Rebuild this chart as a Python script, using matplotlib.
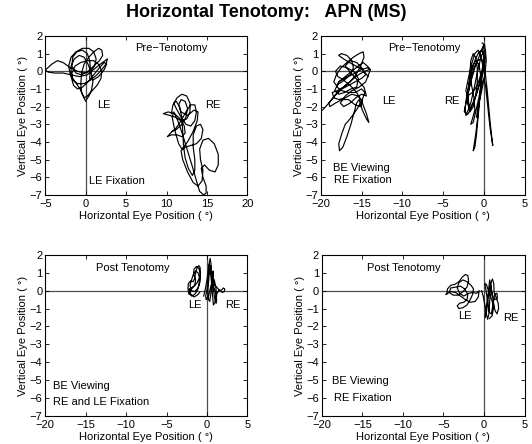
import matplotlib
matplotlib.use("Agg")
import matplotlib.pyplot as plt

plt.rcParams["font.family"] = ["Liberation Sans", "DejaVu Sans"]
plt.rcParams["font.size"] = 8

# ---- eye position traces (degrees) ----
# pre-tenotomy, LE fixation
pre_mono_le_x = [0.0, -0.3, -0.7, -1.3, -1.9, -2.1, -1.8, -1.2, -0.4, 0.4, 1.0, 1.3, 1.1, 0.6, -0.2, -1.0, -1.9,
                 -2.8, -3.5, -4.2, -4.8, -5.0, -4.6, -3.8, -2.8, -1.8, -0.8, 0.2, 1.0, 1.8, 2.4, 2.7, 2.5, 2.0, 1.4,
                 0.6, -0.2, -1.0, -1.6, -1.7, -1.3, -0.6, 0.2, 1.0, 1.6, 2.0, 1.9, 1.4, 0.8, 0.2, -0.2, -0.5, -0.6,
                 -0.5, -0.2, 0.4, 1.0, 1.6, 2.0, 2.1, 1.7, 1.0, 0.3, -0.5, -1.2, -1.7, -1.6, -1.1, -0.4, 0.2, 0.5,
                 0.6, 0.5, 0.9, 1.6, 2.3, 2.6, 2.3, 1.7, 1.0, 0.3, -0.4, -1.0, -1.5, -1.8, -1.8, -1.4, -0.8, -0.2,
                 0.3, 0.7, 0.9, 0.7, 0.4, 0.1]
pre_mono_le_y = [-1.7, -1.4, -1.0, -0.6, -0.2, 0.3, 0.8, 1.1, 1.3, 1.3, 1.1, 0.7, 0.3, 0.0, -0.1, 0.0, 0.2,
                 0.5, 0.6, 0.4, 0.15, 0.05, -0.05, -0.1, -0.1, -0.2, -0.3, -0.2, 0.1, 0.4, 0.6, 0.7, 0.4, 0.1, -0.2,
                 -0.5, -0.7, -0.7, -0.5, -0.1, 0.3, 0.5, 0.6, 0.6, 0.4, 0.0, -0.4, -0.8, -1.1, -1.4, -1.5, -1.2, -0.7,
                 -0.1, 0.4, 0.8, 1.1, 1.3, 1.2, 0.9, 0.6, 0.3, 0.0, -0.2, -0.1, 0.3, 0.8, 1.1, 1.2, 1.0, 0.6,
                 0.1, -0.4, -0.5, -0.3, 0.1, 0.4, 0.5, 0.2, -0.2, -0.6, -0.9, -1.0, -0.8, -0.3, 0.3, 0.7, 0.9, 0.8,
                 0.4, -0.1, -0.6, -1.1, -1.4, -1.6]
pre_mono_re_x = [10.6, 10.8, 11.3, 11.9, 12.5, 12.9, 12.9, 12.5, 11.8, 11.1, 10.4, 9.6, 10.2, 11.0, 11.7, 12.2,
                 12.3, 11.9, 11.3, 10.6, 10.1, 10.5, 11.2, 11.8, 12.4, 13.0, 13.5, 13.7, 13.5, 13.0, 12.4, 11.8,
                 11.2, 10.9, 11.2, 11.6, 11.9, 12.0, 12.1, 12.3, 12.7, 13.2, 13.5, 13.5, 13.3, 13.3, 13.7, 14.2,
                 14.5, 14.3, 13.7, 13.0, 12.3, 11.8, 12.0, 12.6, 13.3, 13.9, 14.4, 14.5, 14.2, 14.1, 14.5, 15.2,
                 15.9, 16.4, 16.4, 16.0, 15.3, 14.7, 14.3, 14.5, 14.9, 14.9, 14.6, 14.1, 13.7, 13.2, 12.6, 12.0,
                 11.4, 10.9, 10.7, 11.0, 11.5, 11.9, 12.6, 13.3, 13.8, 13.9, 13.4, 12.6, 11.8, 11.5, 11.8, 12.3,
                 12.6, 12.4, 11.9, 11.2, 10.7]
pre_mono_re_y = [-2.4, -1.9, -1.5, -1.3, -1.4, -1.8, -2.3, -2.7, -2.8, -2.6, -2.5, -2.4, -2.3, -2.4, -2.7, -3.1,
                 -3.5, -3.7, -3.6, -3.6, -3.7, -3.5, -3.2, -2.8, -2.3, -1.9, -1.9, -2.3, -2.8, -3.1, -3.0, -2.6,
                 -2.1, -1.8, -1.7, -2.0, -2.6, -3.4, -4.2, -4.9, -5.5, -5.9, -5.6, -5.0, -4.3, -3.6, -3.1, -3.0,
                 -3.3, -3.8, -4.1, -4.2, -4.3, -4.5, -5.0, -5.7, -6.3, -6.5, -6.2, -5.6, -5.0, -4.4, -3.9, -3.8,
                 -4.1, -4.7, -5.3, -5.7, -5.6, -5.3, -5.5, -6.0, -6.5, -6.9, -7.0, -6.8, -6.2, -5.4, -4.5, -3.6,
                 -2.8, -2.3, -2.6, -3.3, -4.1, -4.4, -4.0, -3.4, -2.8, -2.3, -2.2, -2.5, -2.3, -1.9, -1.6, -1.7,
                 -2.1, -2.6, -3.0, -3.3, -3.4]

# pre-tenotomy, both eyes viewing, RE fixation
pre_be_le_x = [-19.8, -19.2, -18.5, -17.8, -17.0, -16.2, -15.4, -14.6, -14.0, -14.3, -15.0, -15.8, -16.6, -17.4,
               -18.1, -18.4, -18.1, -17.5, -16.8, -16.0, -15.3, -14.8, -14.7, -15.1, -15.7, -16.4, -17.2, -18.0,
               -18.6, -18.4, -17.8, -17.0, -16.2, -15.4, -14.9, -15.1, -15.8, -16.6, -17.4, -18.2, -18.9, -19.0,
               -18.3, -17.4, -16.6, -15.8, -15.0, -14.5, -14.9, -15.7, -16.5, -17.2, -17.8, -17.5, -16.8, -16.2,
               -16.0, -16.4, -17.1, -17.8, -18.0, -17.4, -16.6, -15.8, -15.0, -14.6, -14.9, -15.5, -16.1, -16.6,
               -17.0, -17.4, -17.8, -17.7, -17.3, -16.8, -16.3, -15.9, -15.6, -15.3, -14.9, -14.4, -14.1, -14.4,
               -14.9, -15.6, -16.4, -17.2, -17.9, -18.2, -17.6, -16.8, -16.0, -15.4, -15.6, -16.3, -17.1, -17.8,
               -18.3, -17.8, -17.0, -16.2, -15.4, -14.8, -14.3, -13.9, -14.5, -15.3, -16.2, -17.0, -17.6, -17.2,
               -16.4, -15.7, -15.0, -14.4, -14.7, -15.5, -16.3, -17.0, -16.4, -15.6, -15.0, -14.2]
pre_be_le_y = [-2.2, -1.9, -1.5, -1.1, -0.8, -0.5, -0.2, 0.0, 0.1, 0.2, 0.1, -0.1, -0.3, -0.6,
               -0.8, -0.6, -0.2, 0.2, 0.5, 0.8, 1.0, 1.1, 0.8, 0.3, -0.2, -0.6, -0.9, -1.1,
               -1.2, -1.5, -1.6, -1.5, -1.3, -1.4, -1.7, -2.0, -1.9, -1.6, -1.6, -1.8, -2.0, -1.8,
               -1.4, -1.0, -0.8, -0.6, -0.4, -0.2, 0.1, 0.3, 0.5, 0.7, 0.9, 1.0, 0.9, 0.6,
               0.2, -0.2, -0.4, -0.6, -0.9, -1.1, -1.2, -1.2, -1.0, -1.2, -1.6, -2.1, -2.5, -2.8,
               -3.0, -3.5, -4.1, -4.5, -4.3, -3.7, -3.0, -2.3, -1.8, -1.6, -2.2, -2.7, -2.9, -2.4,
               -1.8, -1.2, -0.8, -0.5, -0.3, 0.0, 0.3, 0.2, 0.0, -0.4, -0.9, -1.0, -1.2, -1.3,
               -1.1, -0.6, -0.3, 0.0, 0.3, 0.5, 0.3, 0.1, -0.6, -0.9, -1.1, -1.4, -1.8, -2.0,
               -1.8, -1.5, -1.3, -1.4, -0.9, -0.5, -0.1, 0.3, 0.6, 0.5, 0.2, -0.3]
pre_be_re_x = [-0.2, 0.1, 0.2, 0.1, -0.2, -0.6, -1.0, -1.5, -1.9, -2.2, -2.3, -2.1, -1.8, -1.5, -1.1, -0.7, -0.3,
               0.0, 0.1, -0.1, -0.5, -0.9, -1.3, -1.7, -1.9, -1.9, -1.7, -1.4, -1.0, -0.6, -0.4, -0.4, -0.6, -0.8,
               -1.0, -1.2, -1.3, -1.1, -0.9, -0.7, -0.5, -0.3, 0.0, 0.2, 0.4, 0.6, 0.8, 1.0, 1.1, 1.0, 0.8, 0.6,
               0.4, 0.2, 0.0, -0.3, -0.8, -1.2, -1.6, -1.9, -2.0, -1.7, -1.3, -1.0, -0.8, -0.8, -1.0, -1.3, -1.6,
               -1.7, -1.5, -1.2, -1.1, -1.4, -1.6, -1.3, -1.0, -0.6, -0.3, -0.1, -0.3, -0.7, -1.1, -1.5, -1.9,
               -2.2, -2.0, -1.4, -0.8, -0.3, 0.0, -0.1, 0.0, -0.2, -0.6, -1.1, -1.6, -2.1, -2.4, -2.1, -1.6,
               -1.2, -0.9, -0.6, -0.3, 0.2, 0.3, 0.1, -0.3, -0.7, -0.9]
pre_be_re_y = [1.6, 1.5, 1.1, 0.5, -0.1, -0.8, -1.4, -2.0, -2.4, -2.5, -2.1, -1.4, -0.7, 0.0, 0.6, 1.0, 1.2,
               1.0, 0.5, -0.1, -0.7, -1.3, -1.8, -2.1, -1.7, -1.0, -0.3, 0.3, 0.6, 0.4, -0.2, -1.0, -1.9, -2.8,
               -3.6, -4.2, -4.5, -4.3, -3.6, -2.6, -1.6, -0.8, -0.4, -0.8, -1.6, -2.5, -3.3, -3.9, -4.2, -3.8,
               -3.0, -2.0, -1.0, -0.2, 0.4, 0.7, 0.6, 0.2, -0.5, -1.2, -1.8, -2.3, -2.0, -1.4, -0.6, 0.2, 0.8,
               1.0, 0.6, -0.1, -0.8, -1.5, -2.2, -2.7, -3.0, -2.9, -2.3, -1.5, -0.6, 0.2, 0.8, 1.2, 1.0, 0.4,
               -0.4, -1.1, -1.4, -1.2, -0.8, -0.1, 0.6, 1.2, 1.5, 1.3, 0.8, 0.2, -0.6, -1.6, -2.3, -2.4, -1.8,
               -1.0, -0.3, 0.3, 0.9, 1.2, 0.6, -0.3, -1.2, -2.0, -2.6]

# post-tenotomy, both eyes viewing, RE and LE fixation
post_both_le_x = [-2.2, -2.35, -2.3, -2.0, -1.7, -1.5, -1.4, -1.2, -1.0, -0.85, -0.8, -0.95, -1.2, -1.6, -2.0,
                  -2.2, -1.9, -1.5, -1.2, -1.0, -0.9, -1.1, -1.4, -1.7, -1.9, -2.1, -1.9, -1.5, -1.1, -0.85,
                  -0.8, -1.0, -1.3, -1.6, -1.65, -1.4, -1.5, -1.9, -2.2, -2.0, -1.6, -1.2, -0.9]
post_both_le_y = [-0.2, 0.1, 0.4, 0.55, 0.5, 0.7, 1.0, 1.3, 1.4, 1.3, 1.0, 0.7, 0.45, 0.25, 0.05,
                  -0.15, -0.3, -0.2, 0.0, 0.3, 0.7, 1.0, 1.1, 0.9, 0.6, 0.3, 0.0, -0.05, 0.15, 0.5,
                  0.9, 1.25, 1.35, 1.2, 0.9, 0.6, 0.3, 0.15, 0.1, -0.2, -0.35, -0.25, -0.1]
post_both_re_x = [-0.4, -0.2, 0.0, 0.15, 0.3, 0.4, 0.5, 0.55, 0.65, 0.85, 1.05, 1.2, 1.15, 0.95, 0.75, 0.6,
                  0.45, 0.3, 0.2, 0.1, 0.2, 0.35, 0.5, 0.65, 0.75, 0.8, 0.95, 1.3, 1.6, 1.85, 2.0, 2.2, 2.15,
                  1.9, 1.5, 1.2, 0.95, 0.8, 0.7, 0.55, 0.4, 0.3, 0.2, 0.05, -0.15, -0.1, 0.2, 0.5, 0.9, 1.1, 1.2]
post_both_re_y = [-0.3, 0.1, 0.6, 1.1, 1.6, 1.8, 1.5, 1.0, 0.5, 0.2, -0.1, -0.5, -0.7, -0.4, 0.2, 0.9,
                  1.4, 1.1, 0.5, -0.1, -0.5, -0.6, -0.1, 0.6, 1.1, 0.7, 0.3, 0.15, 0.0, 0.05, 0.15, 0.1, -0.05,
                  -0.1, 0.05, -0.2, -0.7, -0.8, -0.3, 0.5, 1.2, 1.5, 0.9, 0.2, -0.3, -0.5, -0.3, 0.3, 0.6, 0.2, -0.3]

# post-tenotomy, both eyes viewing, RE fixation
post_be_le_x = [-4.6, -4.5, -4.1, -3.6, -3.1, -2.7, -2.3, -2.0, -1.9, -2.1, -2.6, -3.2, -3.8, -4.3, -4.1, -3.5,
                -2.9, -2.4, -2.0, -2.1, -2.5, -3.0, -3.3, -3.1, -2.6, -2.1, -1.7, -1.4, -1.3, -1.6, -2.1, -2.6,
                -3.1, -3.3, -3.0, -2.5, -1.9, -1.4, -0.9, -0.6, -0.7, -1.1, -1.7, -2.3, -2.9, -3.5, -4.1, -4.7]
post_be_le_y = [-0.2, 0.1, 0.3, 0.35, 0.5, 0.75, 0.9, 0.85, 0.55, 0.2, -0.05, -0.25, -0.25, -0.1, 0.15, 0.2,
                0.25, 0.1, -0.2, -0.5, -0.65, -0.7, -0.85, -1.0, -0.95, -0.8, -0.5, -0.2, 0.1, 0.3, 0.5, 0.6,
                0.45, 0.15, -0.15, -0.3, -0.15, -0.1, -0.15, 0.0, -0.35, -0.6, -0.65, -0.5, -0.3, -0.1, -0.05, -0.2]
post_be_re_x = [-0.3, -0.1, 0.1, 0.3, 0.45, 0.6, 0.7, 0.8, 0.9, 1.05, 1.2, 1.25, 1.5, 1.75, 1.8, 1.6, 1.35,
                1.15, 1.0, 0.8, 0.6, 0.4, 0.25, 0.15, 0.3, 0.5, 0.6, 0.7, 0.85, 1.0, 1.3, 1.65, 1.6, 1.3, 1.1,
                0.9, 0.65, 0.45, 0.25, 0.1, 0.3, 0.6, 0.95, 1.2, 1.0, 0.7]
post_be_re_y = [0.0, -0.3, -0.8, -1.3, -1.6, -1.3, -0.6, 0.1, 0.5, 0.65, 0.4, -0.1, -0.4, -0.7, -1.0, -1.3, -1.1,
                -0.6, -0.1, 0.3, 0.0, -0.5, -1.0, -1.5, -1.2, -0.5, 0.2, 0.6, 0.2, -0.3, -0.5, -0.45, -0.15, -0.2,
                -0.8, -1.3, -1.2, -0.6, 0.0, 0.4, 0.35, -0.1, -0.5, -0.9, -1.4, -1.55]

panels = [
    # rect, xlim, xticks, traces, texts
    ([0.085, 0.561, 0.380, 0.358], (-5, 20), [-5, 0, 5, 10, 15, 20],
     [(pre_mono_le_x, pre_mono_le_y), (pre_mono_re_x, pre_mono_re_y)],
     [(6.1, 1.3, "Pre\u2212Tenotomy"), (1.4, -1.9, "LE"), (14.8, -1.9, "RE"), (0.45, -6.2, "LE Fixation")]),
    ([0.603, 0.561, 0.383, 0.358], (-20, 5), [-20, -15, -10, -5, 0, 5],
     [(pre_be_le_x, pre_be_le_y), (pre_be_re_x, pre_be_re_y)],
     [(-11.7, 1.3, "Pre\u2212Tenotomy"), (-12.5, -1.7, "LE"), (-4.9, -1.7, "RE"),
      (-18.5, -5.5, "BE Viewing"), (-18.4, -6.15, "RE Fixation")]),
    ([0.085, 0.063, 0.380, 0.363], (-20, 5), [-20, -15, -10, -5, 0, 5],
     [(post_both_le_x, post_both_le_y), (post_both_re_x, post_both_re_y)],
     [(-13.7, 1.27, "Post Tenotomy"), (-2.3, -0.8, "LE"), (2.3, -0.8, "RE"),
      (-19.0, -5.3, "BE Viewing"), (-19.0, -6.2, "RE and LE Fixation")]),
    ([0.605, 0.063, 0.381, 0.363], (-20, 5), [-20, -15, -10, -5, 0, 5],
     [(post_be_le_x, post_be_le_y), (post_be_re_x, post_be_re_y)],
     [(-14.4, 1.25, "Post Tenotomy"), (-3.2, -1.4, "LE"), (2.4, -1.5, "RE"),
      (-18.7, -5.05, "BE Viewing"), (-18.5, -6.0, "RE Fixation")]),
]

fig = plt.figure(figsize=(5.32, 4.44), dpi=100)

for rect, xlim, xticks, traces, texts in panels:
    ax = fig.add_axes(rect)
    ax.axhline(0, color="0.3", lw=0.9, zorder=1)
    ax.axvline(0, color="0.3", lw=0.9, zorder=1)
    for tx, ty in traces:
        ax.plot(tx, ty, color="black", lw=0.85, zorder=2)
    for x, y, s in texts:
        ax.text(x, y, s, ha="left", va="center", fontsize=8)
    ax.set_xlim(*xlim)
    ax.set_ylim(-7, 2)
    ax.set_xticks(xticks)
    ax.set_yticks(range(-7, 3))
    ax.tick_params(direction="in", length=3, width=0.6, top=True, right=True, labelsize=8)
    ax.tick_params(axis="x", pad=3)
    ax.tick_params(axis="y", pad=2)
    for sp in ax.spines.values():
        sp.set_linewidth(0.8)
    ax.set_xlabel("Horizontal Eye Position ( \u00b0)", fontsize=8, labelpad=1.5)
    ax.set_ylabel("Vertical Eye Position ( \u00b0)", fontsize=8, labelpad=1)

fig.text(0.5, 0.972, "Horizontal Tenotomy:   APN (MS)", ha="center", va="center",
         fontsize=13, fontweight="bold")

fig.savefig("out.png", dpi=100)
